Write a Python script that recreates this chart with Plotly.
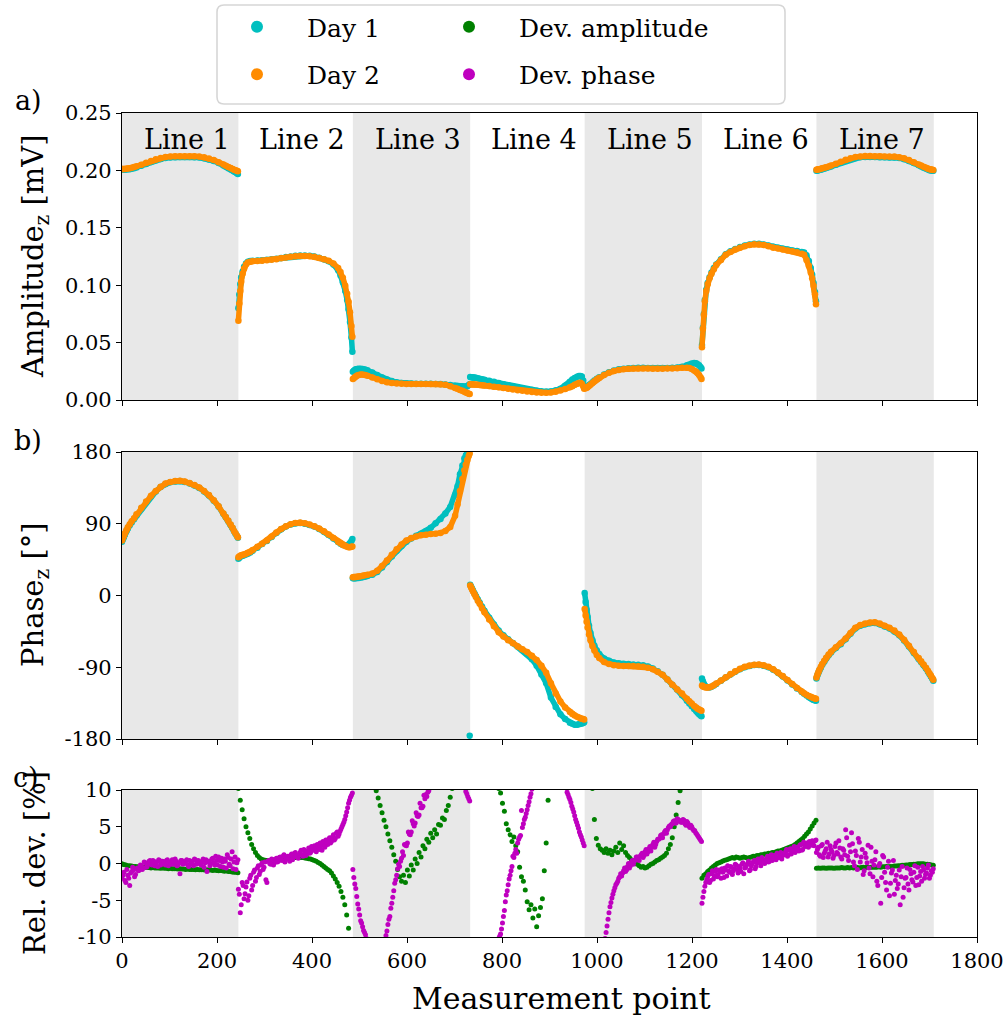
import plotly.graph_objects as go

W, H = 1006, 1021
FONT = "DejaVu Serif"

# ---------------- segment layout (measurement point index) ----------------
LINE_STARTS = [0, 245, 486, 733, 974, 1221, 1462]
LINE_ENDS = [245, 486, 733, 974, 1221, 1462, 1709]
LINE_NAMES = ["Line 1", "Line 2", "Line 3", "Line 4", "Line 5", "Line 6", "Line 7"]
SHADED_LINES = [0, 2, 4, 6]

# sample offsets inside each line (nominal 0..240)
OFF = [0, 2, 4, 6, 9, 12, 16, 20, 25, 30, 40, 50, 60, 70, 80, 90, 100, 110, 120, 130,
       140, 150, 160, 170, 180, 190, 200, 210, 215, 220, 225, 229, 232, 235, 238, 240]
DEV_OFF = list(range(0, 241, 4))
DEV_MID_OFF = list(range(2, 240, 4))

# ---------------- amplitude [mV] ----------------
AMP_DAY1 = [
    [0.2006, 0.2006, 0.2006, 0.2007, 0.2008, 0.2009, 0.2011, 0.2014, 0.2019, 0.2026, 0.2040, 0.2056, 0.2073, 0.2088, 0.2100, 0.2108, 0.2113, 0.2115, 0.2116, 0.2116, 0.2116, 0.2115, 0.2112, 0.2106, 0.2096, 0.2082, 0.2064, 0.2043, 0.2031, 0.2019, 0.2008, 0.1999, 0.1991, 0.1983, 0.1975, 0.1969],
    [0.080, 0.092, 0.101, 0.107, 0.112, 0.1160, 0.1190, 0.1205, 0.1210, 0.1212, 0.1215, 0.1218, 0.1222, 0.1226, 0.1231, 0.1238, 0.1245, 0.1251, 0.1256, 0.1259, 0.1259, 0.1256, 0.1250, 0.1240, 0.1226, 0.1208, 0.1180, 0.1130, 0.1085, 0.1025, 0.0950, 0.0870, 0.0790, 0.0680, 0.0545, 0.0420],
    [0.0245, 0.0255, 0.0262, 0.0267, 0.0271, 0.0273, 0.0273, 0.0271, 0.0266, 0.0259, 0.0240, 0.0218, 0.0196, 0.0178, 0.0165, 0.0155, 0.0149, 0.0145, 0.0143, 0.0142, 0.0142, 0.0142, 0.0141, 0.0140, 0.0140, 0.0135, 0.0130, 0.0125, 0.0122, 0.0120, 0.0118, 0.0115, 0.0115, 0.0120, 0.0130, 0.0138],
    [0.0200, 0.0199, 0.0198, 0.0197, 0.0195, 0.0193, 0.0190, 0.0186, 0.0181, 0.0176, 0.0167, 0.0158, 0.0148, 0.0138, 0.0128, 0.0119, 0.0110, 0.0102, 0.0094, 0.0087, 0.0081, 0.0076, 0.0073, 0.0075, 0.0084, 0.0099, 0.0125, 0.0160, 0.0178, 0.0192, 0.0202, 0.0208, 0.0210, 0.0205, 0.0170, 0.0120],
    [0.0115, 0.0112, 0.0115, 0.0120, 0.0130, 0.0140, 0.0155, 0.0170, 0.0186, 0.0198, 0.0222, 0.0242, 0.0257, 0.0267, 0.0273, 0.0277, 0.0279, 0.0280, 0.0280, 0.0279, 0.0278, 0.0278, 0.0278, 0.0279, 0.0280, 0.0283, 0.0290, 0.0302, 0.0310, 0.0318, 0.0322, 0.0320, 0.0312, 0.0302, 0.0288, 0.0275],
    [0.048, 0.063, 0.075, 0.087, 0.096, 0.102, 0.107, 0.111, 0.115, 0.118, 0.1225, 0.127, 0.1295, 0.1315, 0.1332, 0.1345, 0.1355, 0.136, 0.136, 0.1355, 0.1346, 0.1335, 0.1327, 0.1318, 0.131, 0.1303, 0.1297, 0.129, 0.1285, 0.126, 0.121, 0.115, 0.109, 0.102, 0.094, 0.086],
    [0.1998, 0.1999, 0.2001, 0.2003, 0.2006, 0.2010, 0.2015, 0.2020, 0.2027, 0.2034, 0.2050, 0.2067, 0.2084, 0.2098, 0.2108, 0.2114, 0.2117, 0.2117, 0.2116, 0.2115, 0.2114, 0.2113, 0.2112, 0.2107, 0.2097, 0.2082, 0.2064, 0.2044, 0.2034, 0.2024, 0.2014, 0.2007, 0.2002, 0.1999, 0.1997, 0.1996],
]
AMP_DAY2 = [
    [0.2012, 0.2012, 0.2012, 0.2013, 0.2014, 0.2016, 0.2019, 0.2023, 0.2029, 0.2036, 0.2050, 0.2066, 0.2082, 0.2097, 0.2108, 0.2116, 0.2121, 0.2123, 0.2124, 0.2124, 0.2124, 0.2123, 0.2120, 0.2114, 0.2104, 0.2090, 0.2072, 0.2052, 0.2041, 0.2030, 0.2020, 0.2012, 0.2006, 0.2001, 0.1996, 0.1993],
    [0.069, 0.084, 0.095, 0.103, 0.110, 0.1145, 0.1180, 0.1198, 0.1205, 0.1208, 0.1211, 0.1214, 0.1218, 0.1222, 0.1227, 0.1234, 0.1241, 0.1247, 0.1252, 0.1255, 0.1255, 0.1252, 0.1247, 0.1238, 0.1226, 0.1212, 0.1190, 0.1150, 0.1115, 0.1065, 0.0995, 0.0925, 0.0855, 0.0765, 0.0645, 0.0550],
    [0.0183, 0.0190, 0.0198, 0.0205, 0.0213, 0.0218, 0.0222, 0.0222, 0.0218, 0.0212, 0.0197, 0.0180, 0.0165, 0.0154, 0.0147, 0.0143, 0.0141, 0.0140, 0.0140, 0.0140, 0.0140, 0.0140, 0.0140, 0.0140, 0.0138, 0.0132, 0.0120, 0.0105, 0.0097, 0.0088, 0.0080, 0.0072, 0.0066, 0.0060, 0.0055, 0.0052],
    [0.0138, 0.0137, 0.0137, 0.0136, 0.0135, 0.0134, 0.0133, 0.0131, 0.0129, 0.0126, 0.0121, 0.0115, 0.0110, 0.0104, 0.0098, 0.0092, 0.0086, 0.0080, 0.0074, 0.0070, 0.0066, 0.0064, 0.0064, 0.0066, 0.0072, 0.0082, 0.0095, 0.0110, 0.0120, 0.0132, 0.0142, 0.0148, 0.0150, 0.0142, 0.0120, 0.0098],
    [0.0105, 0.0103, 0.0106, 0.0112, 0.0122, 0.0133, 0.0148, 0.0163, 0.0180, 0.0193, 0.0217, 0.0237, 0.0252, 0.0262, 0.0268, 0.0272, 0.0274, 0.0275, 0.0275, 0.0274, 0.0273, 0.0273, 0.0273, 0.0274, 0.0275, 0.0277, 0.0280, 0.0282, 0.0278, 0.0270, 0.0258, 0.0245, 0.0232, 0.0218, 0.0198, 0.0183],
    [0.046, 0.062, 0.074, 0.086, 0.095, 0.101, 0.106, 0.110, 0.114, 0.1175, 0.122, 0.1265, 0.129, 0.131, 0.1327, 0.134, 0.135, 0.1356, 0.1355, 0.135, 0.134, 0.1327, 0.132, 0.131, 0.1303, 0.1295, 0.1288, 0.1275, 0.1265, 0.122, 0.117, 0.111, 0.106, 0.0995, 0.092, 0.0835],
    [0.2005, 0.2007, 0.2009, 0.2011, 0.2014, 0.2018, 0.2023, 0.2028, 0.2035, 0.2042, 0.2058, 0.2075, 0.2092, 0.2106, 0.2116, 0.2122, 0.2125, 0.2125, 0.2124, 0.2123, 0.2122, 0.2121, 0.2120, 0.2115, 0.2105, 0.2090, 0.2072, 0.2052, 0.2042, 0.2032, 0.2022, 0.2015, 0.2010, 0.2007, 0.2005, 0.2004],
]

# ---------------- phase [deg] ----------------
PH_DAY1 = [
    [67.5, 70.5, 73.5, 76.5, 80.5, 84, 88, 91.5, 95.5, 100.5, 108.8, 117, 124.2, 130.3, 136, 140, 142, 143, 143.5, 142.5, 140.5, 138, 135, 130.5, 125.5, 119, 111.5, 102.5, 98, 93.5, 88.5, 84.5, 80.5, 77.5, 74.5, 72.5],
    [46, 47.5, 48.5, 49.5, 50, 50.5, 51.5, 52.5, 54, 56, 60, 64.5, 68.5, 73.5, 78.5, 83, 86.5, 89, 90.5, 91, 90, 88.5, 86.5, 83.5, 80, 76, 71.5, 67, 65, 63.5, 63, 63, 64, 66, 68.5, 71],
    [21.5, 21.5, 21.6, 21.7, 21.9, 22.1, 22.5, 23, 23.6, 24.4, 26, 29.5, 35, 42, 49, 56, 62, 67.5, 71.5, 75, 77.5, 80.5, 85, 90.5, 96, 103, 111, 126, 137, 152, 163, 172, 176, 179, 179.8, -176],
    [13.5, 11, 8.5, 6, 2.5, -1, -5, -9, -14, -19, -28, -36.5, -44, -50, -55, -59.5, -64, -68.5, -73.5, -80, -88, -99, -110, -128, -140, -149, -155, -159.5, -161, -162, -162, -161.5, -161, -160.5, -160, -159],
    [3, -8, -18, -27, -38, -47, -56, -63, -69, -73.5, -79, -82, -84, -85, -85.5, -86, -86.5, -87, -87.5, -89, -91.5, -95, -99.5, -105.5, -112, -118, -125, -132, -135.5, -139, -142.5, -145, -147, -149, -150.5, -151.5],
    [-104, -108, -111, -113, -114.5, -115, -115.3, -114.5, -113, -111, -107, -103, -99, -95.5, -92.5, -90, -88.3, -87.3, -87.1, -88, -90, -93, -97, -101.5, -106.5, -111.5, -116.5, -121.2, -123.3, -125.5, -127.5, -129, -130, -131, -131.5, -132],
    [-104, -100, -97, -94, -90.5, -87, -83, -79, -75, -71.5, -66, -61, -55, -48, -41.5, -38, -36, -34.8, -34.5, -36, -38.8, -41.5, -45, -50, -56.5, -64, -72, -79.5, -83.5, -87.5, -91.5, -95.5, -98.5, -101.5, -104.5, -107],
]
PH_DAY2 = [
    [69, 72, 75, 78, 82, 85.5, 89.5, 93, 97, 102, 110, 118, 125, 131, 136.5, 140.5, 142.5, 143.5, 144, 143, 141, 138.5, 135.5, 131, 126, 119.5, 112, 103, 98.5, 94, 89, 85, 81, 78, 75, 73],
    [48, 49, 50, 50.5, 51, 51.5, 52.5, 53.5, 55, 57, 61, 65, 69, 74, 79, 83.5, 87, 89.5, 91, 91.5, 90.5, 89, 87, 84, 80.5, 76.5, 72, 67.5, 65.5, 63.5, 62, 61, 60.5, 60.5, 61, 61.5],
    [23, 23.1, 23.2, 23.3, 23.5, 23.8, 24.2, 24.7, 25.3, 26, 27.5, 31, 37, 44, 51, 58, 64, 69, 72, 74, 75.5, 76.3, 77, 77.6, 78.5, 81, 86, 100, 114, 131, 146, 157, 164, 170, 175, 178],
    [12.5, 10, 7.5, 5, 1.5, -2, -6.5, -10.5, -16, -21, -30, -38.5, -46, -51.5, -56, -60, -64, -67.5, -71, -75.5, -81, -88, -97, -110, -123, -133, -140.5, -146, -148.5, -150.5, -152, -153, -154, -154.5, -155, -155.5],
    [-17, -25, -33, -40, -49, -56, -63.5, -69, -74.5, -78.5, -83.5, -86, -87.5, -88, -88.3, -88.5, -88.5, -88.8, -89.3, -90.5, -92.5, -95.5, -99.5, -105.5, -112, -118, -123, -129.5, -132.5, -135.5, -138.5, -140.5, -142, -143, -144, -144.5],
    [-113, -114, -114.5, -115, -115.3, -115.3, -115, -114, -112.5, -110.5, -106.5, -102.5, -98.5, -95, -92, -89.5, -87.8, -86.8, -86.6, -87.5, -89.5, -92.5, -96.5, -101, -106, -111, -116, -120.5, -122.5, -124.5, -126, -127, -128, -128.7, -129.2, -129.6],
    [-103, -99, -96, -93, -89.5, -86, -82, -78, -74, -70.5, -65, -60, -54, -47, -40.5, -37, -35, -33.8, -33.5, -35, -37.8, -40.5, -44, -49, -55.5, -63, -71, -78.5, -82.5, -86.5, -90.5, -94.5, -97.5, -100.5, -103.5, -105.8],
]

# ---------------- relative deviation [%] ----------------
DEV_AMP = [
    [-0.05, -0.15, -0.2, -0.3, -0.3, -0.35, -0.4, -0.4, -0.45, -0.45, -0.5, -0.5, -0.5, -0.55, -0.55, -0.6, -0.55, -0.6, -0.6, -0.6, -0.65, -0.6, -0.65, -0.65, -0.7, -0.65, -0.7, -0.7, -0.7, -0.75, -0.7, -0.75, -0.75, -0.8, -0.75, -0.8, -0.8, -0.8, -0.85, -0.8, -0.85, -0.85, -0.85, -0.9, -0.85, -0.9, -0.9, -0.95, -0.9, -0.95, -1.0, -0.95, -1.0, -1.05, -1.0, -1.1, -1.1, -1.15, -1.2, -1.2, -1.25],
    [10.2, 8.6, 7.3, 6.1, 5.0, 4.2, 3.4, 2.6, 2.0, 1.5, 1.1, 0.8, 0.6, 0.5, 0.45, 0.4, 0.4, 0.4, 0.45, 0.5, 0.5, 0.55, 0.6, 0.6, 0.65, 0.7, 0.7, 0.75, 0.75, 0.8, 0.8, 0.8, 0.8, 0.8, 0.8, 0.75, 0.7, 0.65, 0.6, 0.5, 0.4, 0.3, 0.15, 0.0, -0.2, -0.4, -0.6, -0.8, -1.0, -1.3, -1.7, -2.1, -2.6, -3.1, -3.8, -4.6, -5.6, -7.0, -8.8, -11.0, -14.0],
    [40, 35, 31, 27, 24, 21, 18.5, 16.5, 14.5, 13, 11.8, 10.8, 9.9, 8.9, 7.9, 6.9, 5.9, 5.0, 4.0, 3.1, 2.2, 1.2, 0.3, -0.8, -1.8, -2.4, -1.6, -2.6, -0.9, -1.7, -0.2, -0.9, 0.6, 0.0, 1.5, 0.9, 2.4, 2.0, 3.3, 2.9, 4.1, 3.5, 4.6, 4.0, 5.3, 5.2, 6.2, 6.0, 7.2, 7.9, 9.0, 10.2, 11.5, 13, 15, 17, 19, 22, 25, 28, 32],
    [30, 28, 26, 24, 22, 20.5, 19, 17.5, 16, 15, 14, 13, 12.2, 11.5, 10.8, 10.2, 9.6, 8.2, 7.1, 5.4, 4.6, 3.9, 3.0, 3.6, 2.4, 1.6, -0.5, -1.8, -2.4, -3.6, -5.2, -6.3, -5.6, -7.4, -6.2, -8.6, -7.1, -6.0, -4.8, -1.0, 2.8, 8.6, 11, 14, 17, 20, 23, 25, 27, 29, 30, 31, 32, 32, 32, 31, 30, 29, 28, 27, 26],
    [25, 21, 17, 13.5, 10.2, 6.0, 3.4, 2.5, 2.0, 1.8, 1.5, 2.0, 1.4, 1.8, 1.2, 1.7, 2.2, 1.5, 2.8, 1.9, 2.4, 1.5, 1.1, 0.8, 0.5, 0.3, 0.1, -0.1, -0.3, -0.5, -0.4, -0.6, -0.5, -0.3, -0.1, 0.0, 0.2, 0.4, 0.5, 0.7, 0.9, 1.1, 1.4, 2.0, 2.6, 3.5, 5.0, 6.6, 8.3, 9.9, 11.5, 13.5, 16, 19, 22, 25, 28, 31, 34, 37, 40],
    [-2.0, -1.6, -1.4, -1.1, -0.9, -0.6, -0.4, -0.2, 0.0, 0.1, 0.2, 0.35, 0.45, 0.5, 0.6, 0.7, 0.8, 0.7, 0.9, 0.8, 0.7, 0.8, 0.9, 0.8, 0.7, 0.8, 0.9, 1.0, 1.0, 1.1, 1.1, 1.2, 1.2, 1.3, 1.3, 1.4, 1.4, 1.5, 1.5, 1.6, 1.7, 1.7, 1.8, 1.9, 2.0, 2.1, 2.2, 2.3, 2.4, 2.6, 2.8, 3.0, 3.2, 3.4, 3.7, 4.0, 4.3, 4.7, 5.1, 5.5, 5.9],
    [-0.65, -0.6, -0.65, -0.6, -0.6, -0.65, -0.6, -0.6, -0.6, -0.65, -0.6, -0.6, -0.6, -0.55, -0.6, -0.6, -0.55, -0.6, -0.55, -0.6, -0.55, -0.55, -0.6, -0.55, -0.5, -0.55, -0.5, -0.55, -0.5, -0.5, -0.5, -0.5, -0.45, -0.5, -0.45, -0.45, -0.4, -0.45, -0.4, -0.4, -0.35, -0.35, -0.3, -0.3, -0.25, -0.25, -0.2, -0.2, -0.15, -0.15, -0.1, -0.1, -0.05, -0.05, -0.05, -0.05, -0.1, -0.1, -0.15, -0.2, -0.25],
]
DEV_PH = [
    [-2.0, -1.2, -2.6, -1.6, -3.0, -1.1, -0.9, -1.5, -0.6, -0.9, -0.3, -0.6, 0.1, -0.4, 0.3, -0.1, 0.4, -0.3, 0.2, 0.5, -0.2, 0.3, 0.0, 0.4, -0.3, 0.2, 0.5, -0.1, 0.3, -0.2, -1.4, 0.4, 0.0, 0.3, -0.2, 0.4, 0.1, -0.3, 0.5, 0.0, 0.2, -0.2, 0.6, 0.1, -1.1, 0.3, 0.0, 0.7, -0.2, 0.4, 0.9, -0.4, 0.2, 0.6, -0.6, 0.8, -0.3, 1.6, 0.2, -0.8, 0.5],
    [-3.5, -6.7, -2.6, -4.8, -3.2, -5.0, -2.0, -3.6, -1.2, -2.4, -0.6, -1.5, -0.2, -0.8, 0.2, -2.6, 0.4, -0.1, 0.5, 0.1, 0.7, 0.3, 0.9, 0.4, 1.2, 0.6, 1.0, 0.3, 1.3, 0.8, 1.5, 0.9, 1.2, 1.8, 1.0, 1.6, 1.3, 2.1, 1.5, 1.9, 2.4, 1.6, 2.2, 2.8, 1.8, 2.5, 3.2, 2.6, 3.5, 3.0, 3.9, 3.4, 4.3, 4.0, 4.7, 5.3, 6.0, 7.0, 8.2, 9.0, 9.6],
    [-0.8, -2.8, -4.5, -6.2, -7.8, -8.6, -9.4, -10.2, -12, -14, -16, -17, -18, -18, -17, -14, -11.5, -9.8, -8.3, -7.2, -5.4, -3.7, -2.2, -0.7, -0.4, 0.7, 1.1, 2.5, 2.8, 4.0, 4.3, 5.4, 5.5, 6.5, 6.6, 7.6, 7.8, 8.8, 9.1, 9.9, 11, 12, 13.5, 15, 16.5, 18, 19, 20, 21, 21.5, 21.5, 21, 20, 18.5, 16.5, 14.5, 12.5, 11, 9.8, 9.1, 8.5],
    [-30, -28, -26, -24, -22, -20, -18.5, -17, -15.5, -14.5, -13.5, -12.8, -12, -11.3, -10.7, -10.2, -9.6, -8.1, -6.4, -4.3, -2.9, -1.6, -0.4, 0.8, 1.9, 2.8, 3.6, 7.2, 5.4, 6.3, 7.3, 8.4, 9.5, 10.6, 12, 14, 16, 18, 20, 22, 24, 25, 26, 26, 25, 24, 22, 19, 16, 13, 11, 9.7, 9.0, 8.3, 7.4, 6.5, 5.6, 4.8, 3.9, 3.2, 2.4],
    [-40, -36, -32, -28, -25, -22, -19.5, -17, -15, -13, -11, -9.4, -7.6, -5.9, -4.7, -3.7, -2.9, -2.4, -1.8, -1.7, -1.0, -1.1, -0.4, -0.6, 0.2, -0.1, 0.5, 0.9, 0.4, 1.2, 0.8, 1.6, 1.3, 2.0, 1.7, 2.6, 2.2, 3.0, 3.3, 3.8, 3.5, 4.3, 4.1, 4.9, 5.0, 5.4, 5.8, 5.5, 6.0, 5.7, 5.6, 5.9, 5.2, 5.5, 4.9, 5.0, 4.5, 4.2, 3.8, 3.4, 3.0],
    [-5.4, -3.8, -2.6, -1.8, -2.6, -1.4, -2.1, -1.1, -1.8, -0.9, -2.0, -1.2, -0.6, -1.7, -1.0, -0.4, -1.5, -0.7, -0.2, -1.3, -0.6, -0.1, -1.4, -0.5, 0.0, -1.0, -0.3, 0.2, -0.7, 0.1, 0.5, -0.3, 0.3, 0.0, 0.7, 0.2, 0.9, 0.4, 1.1, 0.5, 0.8, 1.3, 0.6, 1.2, 1.6, 1.0, 1.8, 1.3, 2.0, 1.5, 2.2, 1.7, 2.6, 1.9, 2.4, 2.8, 2.2, 2.7, 3.1, 2.4, 3.2],
    [1.5, 2.2, 1.0, 2.6, 1.4, 2.0, 0.9, 2.4, 1.6, 1.1, 2.8, 1.3, 2.1, 0.6, 1.8, 4.6, 1.0, 2.5, 4.2, 0.2, 1.7, -0.8, 2.9, 0.9, -1.5, 1.4, 0.1, -0.6, 2.2, -1.8, 0.5, -2.4, -0.3, -5.4, 1.1, -1.2, -3.6, 0.3, -2.7, -0.9, -4.2, -1.6, -2.8, -5.6, -0.4, -3.3, -1.9, -2.8, -0.8, -2.2, -1.2, -3.0, -0.5, -1.7, -2.4, -0.9, -1.5, -0.6, -2.0, -1.0, -0.7],
]
# phase deviation read at the in-between positions (offsets 2, 6, ..., 238)
DEV_PH_MID = [
    [-1.6, -2.3, -0.8, -2.0, -1.3, -0.5, -1.8, -0.7, -1.0, -0.2, -0.8, 0.2, -0.5, 0.0, 0.4, -0.2, 0.3, 0.1, -0.4, 0.4, 0.0, 0.2, -0.2, 0.5, 0.1, -0.1, 0.3, 0.6, -0.3, 0.1, 0.4, -0.1, 0.2, 0.5, -0.4, 0.0, 0.3, 0.6, -0.1, 0.4, 0.0, 0.3, -0.5, 0.5, 0.2, -0.3, 0.6, 0.1, 1.0, -0.2, 0.4, 0.7, -0.5, 0.3, 1.2, -0.1, 0.6, -0.7, 0.9, 0.1],
    [-4.2, -5.6, -3.0, -4.1, -2.5, -4.4, -1.6, -3.0, -0.9, -1.9, -0.3, -1.1, 0.1, -0.5, -2.2, 0.3, 0.0, 0.6, -0.2, 0.5, 0.2, 0.8, 0.5, 1.0, 0.2, 0.9, 0.6, 1.1, 0.5, 1.4, 1.1, 0.7, 1.5, 1.2, 1.9, 1.1, 1.7, 1.4, 2.3, 1.8, 2.0, 2.6, 1.9, 2.4, 3.0, 2.2, 2.9, 3.3, 2.8, 3.6, 3.2, 4.1, 3.7, 4.4, 5.0, 5.6, 6.5, 7.6, 8.6, 9.3],
    [-1.9, -3.4, -5.5, -7.0, -8.1, -9.1, -9.7, -11, -13, -15, -16.5, -17.5, -18, -17.5, -15.5, -12.8, -10.6, -9.2, -7.6, -6.1, -4.6, -2.7, -1.6, -0.1, 0.3, 1.6, 2.6, 2.4, 4.3, 3.9, 5.8, 5.1, 6.9, 6.4, 8.2, 7.6, 9.3, 9.4, 9.7, 10.5, 11.5, 12.8, 14.2, 15.8, 17.2, 18.5, 19.5, 20.5, 21.2, 21.5, 21.2, 20.5, 19.2, 17.5, 15.5, 13.5, 11.8, 10.4, 9.5, 8.8],
    [-29, -27, -25, -23, -21, -19.2, -17.8, -16.2, -15, -14, -13.1, -12.4, -11.6, -11, -10.4, -9.9, -8.9, -7.2, -5.2, -3.7, -2.1, -1.0, 1.0, 1.4, 1.4, 3.3, 3.8, 4.9, 6.0, 6.8, 7.9, 9.0, 10.1, 11.3, 13, 15, 17, 19, 21, 23, 24.5, 25.5, 26, 25.5, 24.5, 23, 20.5, 17.5, 14.5, 12, 10.3, 9.4, 8.7, 7.8, 7.0, 6.0, 5.2, 4.3, 3.6, 2.8],
    [-38, -34, -30, -26.5, -23.5, -20.7, -18.2, -16, -14, -12, -10.2, -8.5, -6.7, -5.3, -4.2, -3.3, -2.7, -2.0, -1.4, -1.3, -0.6, -0.9, 0.0, -0.3, 0.4, 0.3, 0.9, 0.6, 1.0, 1.4, 1.1, 1.9, 1.6, 2.3, 2.2, 2.9, 2.6, 3.3, 3.4, 3.9, 4.0, 4.5, 4.6, 5.1, 5.3, 5.7, 5.5, 6.1, 5.9, 5.6, 6.0, 5.4, 5.7, 5.1, 5.2, 4.7, 4.5, 4.0, 3.6, 3.2],
    [-4.6, -3.1, -2.2, -1.5, -2.3, -1.0, -1.7, -0.8, -1.5, -1.1, -0.7, -1.9, -0.9, -0.3, -1.2, -0.5, -1.0, -0.1, -0.8, -0.4, -1.1, 0.1, -0.6, -0.2, 0.3, -0.8, 0.0, 0.4, -0.4, 0.6, 0.1, 0.8, 0.3, 0.5, 1.0, 0.3, 1.2, 0.7, 0.9, 1.4, 0.8, 1.5, 1.1, 1.3, 1.9, 1.2, 2.0, 1.6, 2.3, 1.8, 2.0, 2.5, 1.8, 2.9, 2.3, 2.6, 3.0, 2.5, 2.9, 3.1],
    [1.9, 1.2, 2.4, 0.8, 1.7, 2.9, 1.3, 1.9, 0.7, 2.3, 1.5, 3.1, 0.9, 2.0, 1.2, 3.5, 0.4, 1.6, 2.7, -0.3, 1.1, 3.4, 0.2, 1.9, -1.0, 0.8, 2.5, -1.4, 0.3, -0.2, 1.6, -3.0, 0.0, -1.9, 0.9, -2.6, -0.5, -4.4, -1.3, 0.4, -2.3, -3.4, -0.9, -1.8, -4.6, -2.0, -0.6, -3.6, -1.4, -2.5, -0.3, -1.9, -2.9, -1.1, -0.4, -2.0, -1.3, -0.2, -1.6, -1.2],
]

# ---------------- ticks ----------------
X_TICKS = [0, 200, 400, 600, 800, 1000, 1200, 1400, 1600, 1800]
X_TICKTEXT = ["0", "200", "400", "600", "800", "1000", "1200", "1400", "1600", "1800"]
AMP_TICKS = [0.0, 0.05, 0.10, 0.15, 0.20, 0.25]
AMP_TICKTEXT = ["0.00", "0.05", "0.10", "0.15", "0.20", "0.25"]
PH_TICKS = [-180, -90, 0, 90, 180]
PH_TICKTEXT = ["-180", "-90", "0", "90", "180"]
DEV_TICKS = [-10, -5, 0, 5, 10]
DEV_TICKTEXT = ["-10", "-5", "0", "5", "10"]

C_DAY1 = "#00bfbf"
C_DAY2 = "#ff8c00"
C_AMP = "#008000"
C_PH = "#bf00bf"
SHADE = "#e8e8e8"


def line_positions(i, offs):
    n = LINE_ENDS[i] - LINE_STARTS[i]
    s = (n - 1) / 240.0
    return [LINE_STARTS[i] + o * s for o in offs]


def flatten(series, offs, breaks=False, wrap=None):
    xs, ys = [], []
    for i, vals in enumerate(series):
        if len(vals) != len(offs):
            raise ValueError("line %d has %d values, expected %d" % (i, len(vals), len(offs)))
        px = line_positions(i, offs)
        for k, (a, b) in enumerate(zip(px, vals)):
            if wrap is not None and k > 0 and abs(b - vals[k - 1]) > wrap:
                xs.append(None)
                ys.append(None)
            xs.append(a)
            ys.append(b)
        if breaks:
            xs.append(None)
            ys.append(None)
    return xs, ys


fig = go.Figure()

# legend entries (markers only, like the reference)
for name, color, leg, grp in [("Day 1", C_DAY1, "legend", "d1"), ("Day 2", C_DAY2, "legend", "d2"),
                              ("Dev. amplitude", C_AMP, "legend2", "g1"),
                              ("Dev. phase", C_PH, "legend2", "g2")]:
    fig.add_trace(go.Scatter(x=[None], y=[None], mode="markers", name=name,
                             marker=dict(color=color, size=12), legend=leg,
                             legendgroup=grp, showlegend=True, xaxis="x3", yaxis="y3",
                             hoverinfo="skip"))


def add_band(series, color, name, xa, ya, group, wrap=None):
    x, y = flatten(series, OFF, breaks=True, wrap=wrap)
    fig.add_trace(go.Scatter(
        x=x, y=y, mode="lines+markers", name=name, connectgaps=False,
        line=dict(color=color, width=5.5),
        marker=dict(color=color, size=6.5, line=dict(width=0)),
        xaxis=xa, yaxis=ya, legendgroup=group, showlegend=False,
        hoverinfo="skip"))


def add_dev(parts, color, name, group):
    x, y = [], []
    for series, offs in parts:
        a, b = flatten(series, offs)
        x += a
        y += b
    fig.add_trace(go.Scatter(
        x=x, y=y, mode="markers", name=name,
        marker=dict(color=color, size=5, line=dict(width=0)),
        xaxis="x3", yaxis="y3", legendgroup=group, showlegend=False,
        hoverinfo="skip"))


add_band(AMP_DAY1, C_DAY1, "Day 1", "x", "y", "d1")
add_band(AMP_DAY2, C_DAY2, "Day 2", "x", "y", "d2")
add_band(PH_DAY1, C_DAY1, "Day 1", "x2", "y2", "d1", wrap=180)
add_band(PH_DAY2, C_DAY2, "Day 2", "x2", "y2", "d2", wrap=180)
add_dev([(DEV_AMP, DEV_OFF)], C_AMP, "Dev. amplitude", "g1")
add_dev([(DEV_PH, DEV_OFF), (DEV_PH_MID, DEV_MID_OFF)], C_PH, "Dev. phase", "g2")

XD = [122 / W, 977 / W]
YD_A = [1 - 400 / H, 1 - 113 / H]
YD_B = [1 - 739 / H, 1 - 452 / H]
YD_C = [1 - 937 / H, 1 - 790 / H]

tickfont = dict(family=FONT, size=21, color="black")
common = dict(showline=True, linecolor="black", linewidth=1.3, mirror=True,
              ticks="outside", ticklen=5, tickwidth=1.3, tickcolor="black",
              showgrid=False, zeroline=False, tickfont=tickfont, automargin=False)

legend_common = dict(xanchor="left", yanchor="top", bgcolor="rgba(0,0,0,0)",
                     borderwidth=0, itemsizing="constant", itemwidth=90,
                     tracegroupgap=12, font=dict(family=FONT, size=25, color="black"))

fig.update_layout(
    template="none",
    width=W, height=H, margin=dict(l=0, r=0, t=0, b=0, pad=0, autoexpand=False),
    paper_bgcolor="white", plot_bgcolor="white",
    font=dict(family=FONT, color="black"),
    xaxis=dict(domain=XD, range=[0, 1800], anchor="y", tickvals=X_TICKS,
               showticklabels=False, **common),
    xaxis2=dict(domain=XD, range=[0, 1800], anchor="y2", tickvals=X_TICKS,
                showticklabels=False, **common),
    xaxis3=dict(domain=XD, range=[0, 1800], anchor="y3", tickvals=X_TICKS,
                ticktext=X_TICKTEXT, **common),
    yaxis=dict(domain=YD_A, range=[0, 0.25], anchor="x", tickvals=AMP_TICKS,
               ticktext=AMP_TICKTEXT, **common),
    yaxis2=dict(domain=YD_B, range=[-180, 180], anchor="x2", tickvals=PH_TICKS,
                ticktext=PH_TICKTEXT, **common),
    yaxis3=dict(domain=YD_C, range=[-10, 10], anchor="x3", tickvals=DEV_TICKS,
                ticktext=DEV_TICKTEXT, **common),
    legend=dict(x=207 / W, y=1 - 4 / H, **legend_common),
    legend2=dict(x=419 / W, y=1 - 4 / H, **legend_common),
    showlegend=True,
)

shapes = []
for ax in ["", "2", "3"]:
    for i in SHADED_LINES:
        shapes.append(dict(type="rect", xref="x" + ax, yref="y" + ax + " domain",
                           x0=LINE_STARTS[i], x1=LINE_ENDS[i], y0=0, y1=1,
                           fillcolor=SHADE, line=dict(width=0), layer="below"))

# rounded legend frame (paper coords)
x0, x1 = 217 / W, 785 / W
y0, y1 = 1 - 104 / H, 1 - 5 / H
rx, ry = 7 / W, 7 / H
path = ("M %f,%f L %f,%f Q %f,%f %f,%f L %f,%f Q %f,%f %f,%f L %f,%f Q %f,%f %f,%f "
        "L %f,%f Q %f,%f %f,%f Z") % (
    x0 + rx, y1, x1 - rx, y1, x1, y1, x1, y1 - ry, x1, y0 + ry, x1, y0, x1 - rx, y0,
    x0 + rx, y0, x0, y0, x0, y0 + ry, x0, y1 - ry, x0, y1, x0 + rx, y1)
shapes.append(dict(type="path", xref="paper", yref="paper", path=path,
                   line=dict(color="#d6d6d6", width=1.6), fillcolor="white", layer="above"))
fig.update_layout(shapes=shapes)

ann = []
for i, name in enumerate(LINE_NAMES):
    xc = (LINE_STARTS[i] + LINE_ENDS[i]) / 2 + 14
    ann.append(dict(x=xc, y=0.227, xref="x", yref="y", text=name, showarrow=False,
                    font=dict(family=FONT, size=27, color="black")))


def pann(text, px, py, size, angle=0):
    return dict(x=px / W, y=1 - py / H, xref="paper", yref="paper", text=text,
                showarrow=False, textangle=angle, xanchor="center", yanchor="middle",
                font=dict(family=FONT, size=size, color="black"))


ann.append(pann("a)", 28, 101, 27))
ann.append(pann("b)", 28, 440, 27))
ann.append(pann("c)", 26, 777, 27))
ann.append(pann("Amplitude<sub>z</sub> [mV]", 35, 256, 29, -90))
ann.append(pann("Phase<sub>z</sub> [°]", 35, 595, 29, -90))
ann.append(pann("Rel. dev. [%]", 35, 863, 29, -90))
ann.append(pann("Measurement point", 561, 998, 30))
fig.update_layout(annotations=ann)

fig.write_html("out.html")
